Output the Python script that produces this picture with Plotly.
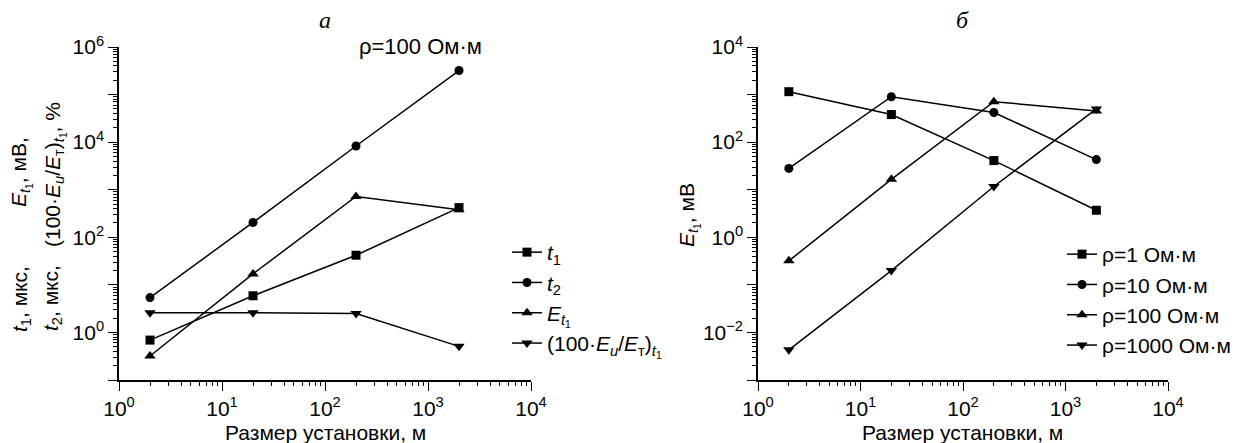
import plotly.graph_objects as go

# размер установки, м
size_m = [2, 20, 200, 2000]

# панель а (ρ=100 Ом·м)
t1_us = [0.69, 5.9, 42, 420]
t2_us = [5.4, 205, 8300, 320000]
e_t1_mv = [0.32, 17, 720, 380]
ratio_pct = [2.6, 2.6, 2.5, 0.51]

# панель б
rho_1 = [1150, 380, 41, 3.7]
rho_10 = [28, 900, 420, 43]
rho_100 = [0.32, 16.5, 710, 450]
rho_1000 = [0.0043, 0.2, 11.7, 500]

x_ticks = [1, 10, 100, 1000, 10000]
x_ticktext = ["10<sup>0</sup>", "10<sup>1</sup>", "10<sup>2</sup>", "10<sup>3</sup>", "10<sup>4</sup>"]
ya_ticks = [1e-1, 1, 10, 100, 1e3, 1e4, 1e5, 1e6]
ya_ticktext = ["", "10<sup>0</sup>", "", "10<sup>2</sup>", "", "10<sup>4</sup>", "", "10<sup>6</sup>"]
yb_ticks = [1e-3, 1e-2, 1e-1, 1, 10, 100, 1e3, 1e4]
yb_ticktext = ["", "10<sup>−2</sup>", "", "10<sup>0</sup>", "", "10<sup>2</sup>", "", "10<sup>4</sup>"]


def minor_ticks(lo, hi):
    # промежуточные деления 2..9 в каждой декаде
    return [m * 10.0 ** k for k in range(lo, hi) for m in range(2, 10)]


FONT = "Liberation Sans, Arial, sans-serif"
SERIF = "Liberation Serif, Times New Roman, serif"
FS = 21
W, H = 1247, 443

fig = go.Figure()

line = dict(color="black", width=1.5)

series_a = [
    (t1_us, "<i>t</i><sub>1</sub>", "square", 9),
    (t2_us, "<i>t</i><sub>2</sub>", "circle", 9),
    (e_t1_mv, "<i>E</i><sub><i>t</i><sub>1</sub></sub>", "triangle-up", 10),
    (ratio_pct, "(100·<i>E</i><sub><i>и</i></sub>/<i>E</i><sub>т</sub>)<sub><i>t</i><sub>1</sub></sub>", "triangle-down", 10),
]
for vals, name, sym, sz in series_a:
    fig.add_trace(go.Scatter(
        x=size_m, y=vals, name=name, mode="lines+markers",
        line=line, marker=dict(symbol=sym, size=sz, color="black"),
        xaxis="x", yaxis="y", legend="legend",
    ))

series_b = [
    (rho_1, "ρ=1 Ом·м", "square", 9),
    (rho_10, "ρ=10 Ом·м", "circle", 9),
    (rho_100, "ρ=100 Ом·м", "triangle-up", 10),
    (rho_1000, "ρ=1000 Ом·м", "triangle-down", 10),
]
for vals, name, sym, sz in series_b:
    fig.add_trace(go.Scatter(
        x=size_m, y=vals, name=name, mode="lines+markers",
        line=line, marker=dict(symbol=sym, size=sz, color="black"),
        xaxis="x2", yaxis="y2", legend="legend2",
    ))

# пустые трассы на наложенных осях - только ради мелких делений
for xa, ya in [("x3", "y3"), ("x4", "y4")]:
    fig.add_trace(go.Scatter(x=[], y=[], xaxis=xa, yaxis=ya, showlegend=False, hoverinfo="skip"))

ydom = [(H - 380) / H, (H - 47) / H]
xdom_a = [119 / W, 531 / W]
xdom_b = [758 / W, 1168 / W]

major = dict(
    type="log", tickmode="array",
    showline=True, linecolor="black", linewidth=1.5, mirror=False,
    ticks="outside", ticklen=9, tickwidth=1.3, tickcolor="black",
    showgrid=False, zeroline=False,
    tickfont=dict(family=FONT, size=FS, color="black"),
    automargin=False,
)
minor = dict(
    type="log", tickmode="array", showline=False, showticklabels=False,
    ticks="outside", ticklen=5, tickwidth=1, tickcolor="black",
    showgrid=False, zeroline=False, automargin=False,
)

fig.update_layout(
    width=W, height=H,
    margin=dict(l=0, r=0, t=0, b=0),
    paper_bgcolor="white", plot_bgcolor="white",
    font=dict(family=FONT, size=FS, color="black"),
    xaxis=dict(major, range=[0, 4], tickvals=x_ticks, ticktext=x_ticktext, domain=xdom_a, anchor="y"),
    yaxis=dict(major, range=[-1, 6], tickvals=ya_ticks, ticktext=ya_ticktext, domain=ydom, anchor="x"),
    xaxis2=dict(major, range=[0, 4], tickvals=x_ticks, ticktext=x_ticktext, domain=xdom_b, anchor="y2"),
    yaxis2=dict(major, range=[-3, 4], tickvals=yb_ticks, ticktext=yb_ticktext, domain=ydom, anchor="x2"),
    xaxis3=dict(minor, range=[0, 4], tickvals=minor_ticks(0, 4), overlaying="x", anchor="y3"),
    yaxis3=dict(minor, range=[-1, 6], tickvals=minor_ticks(-1, 6), overlaying="y", anchor="x3"),
    xaxis4=dict(minor, range=[0, 4], tickvals=minor_ticks(0, 4), overlaying="x2", anchor="y4"),
    yaxis4=dict(minor, range=[-3, 4], tickvals=minor_ticks(-3, 4), overlaying="y2", anchor="x4"),
    legend=dict(x=507 / W, y=(H - 232) / H, xanchor="left", yanchor="top",
                bgcolor="rgba(0,0,0,0)", font=dict(family=FONT, size=21), tracegroupgap=0),
    legend2=dict(x=1062 / W, y=(H - 234) / H, xanchor="left", yanchor="top",
                 bgcolor="rgba(0,0,0,0)", font=dict(family=FONT, size=21), tracegroupgap=0),
    showlegend=True,
)

ann = [
    dict(x=325 / W, y=(H - 20) / H, text="<i>a</i>", font=dict(family=SERIF, size=24)),
    dict(x=963 / W, y=(H - 20) / H, text="<i>б</i>", font=dict(family=SERIF, size=24)),
    dict(x=420 / W, y=(H - 46) / H, text="ρ=100 Ом·м", font=dict(family=FONT, size=22)),
    dict(x=325 / W, y=(H - 432) / H, text="Размер установки, м", font=dict(family=FONT, size=FS)),
    dict(x=963 / W, y=(H - 432) / H, text="Размер установки, м", font=dict(family=FONT, size=FS)),
    dict(x=21 / W, y=(H - 299) / H, text="<i>t</i><sub>1</sub>, мкс,", textangle=-90, font=dict(family=FONT, size=FS)),
    dict(x=52 / W, y=(H - 298) / H, text="<i>t</i><sub>2</sub>, мкс,", textangle=-90, font=dict(family=FONT, size=FS)),
    dict(x=21 / W, y=(H - 172) / H, text="<i>E</i><sub><i>t</i><sub>1</sub></sub>, мВ,", textangle=-90, font=dict(family=FONT, size=FS)),
    dict(x=55 / W, y=(H - 175) / H,
         text="(100·<i>E</i><sub><i>и</i></sub>/<i>E</i><sub>т</sub>)<sub><i>t</i><sub>1</sub></sub>, %",
         textangle=-90, font=dict(family=FONT, size=FS)),
    dict(x=689 / W, y=(H - 215) / H, text="<i>E</i><sub><i>t</i><sub>1</sub></sub>, мВ", textangle=-90, font=dict(family=FONT, size=FS)),
]
for a in ann:
    fig.add_annotation(xref="paper", yref="paper", showarrow=False, xanchor="center", yanchor="middle", **a)

# убрать отступ body, чтобы график лёг ровно в окно
fig.write_html("out.html", config={"displayModeBar": False},
               post_script="document.body.style.margin='0';")
